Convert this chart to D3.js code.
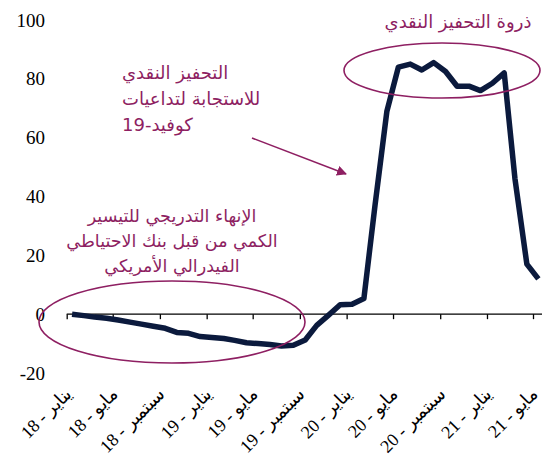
<!DOCTYPE html>
<html>
<head>
<meta charset="utf-8">
<script src="https://cdn.jsdelivr.net/npm/d3@7"></script>
<style>
  body { margin: 0; background: #fff; }
  svg { display: block; }
</style>
</head>
<body>
<svg id="chart" width="542" height="458"></svg>
<script>
// data
const months = [
    '2018-01', '2018-02', '2018-03', '2018-04', '2018-05', '2018-06', '2018-07', '2018-08', '2018-09', '2018-10', '2018-11', '2018-12',
    '2019-01', '2019-02', '2019-03', '2019-04', '2019-05', '2019-06', '2019-07', '2019-08', '2019-09', '2019-10', '2019-11', '2019-12',
    '2020-01', '2020-02', '2020-03', '2020-04', '2020-05', '2020-06', '2020-07', '2020-08', '2020-09', '2020-10', '2020-11', '2020-12',
    '2021-01', '2021-02', '2021-03', '2021-04', '2021-05'
];
const values = [
    0, -0.5, -1, -1.4, -2, -2.7, -3.4, -4.1, -4.8, -6.2, -6.5, -7.6,
    -7.9, -8.3, -8.9, -9.7, -10, -10.3, -10.8, -10.6, -8.8, -3.8, -0.3, 3.2,
    3.4, 5.3, 37, 69, 84, 85, 83, 85.5, 82.5, 77.5, 77.5, 76,
    78.5, 82, 46, 17, 12
];
const tickMonths = ['2018-01', '2018-05', '2018-09', '2019-01', '2019-05', '2019-09', '2020-01', '2020-05', '2020-09', '2021-01', '2021-05'];
const tickLabels = ['يناير - 18', 'مايو - 18', 'سبتمبر - 18', 'يناير - 19', 'مايو - 19', 'سبتمبر - 19', 'يناير - 20', 'مايو - 20', 'سبتمبر - 20', 'يناير - 21', 'مايو - 21'];
const yTicks = [-20, 0, 20, 40, 60, 80, 100];

const noteTop = ['ذروة التحفيز  النقدي'];
const noteCovid = ['التحفيز النقدي', 'للاستجابة لتداعيات', 'كوفيد-19'];
const noteTaper = ['الإنهاء التدريجي  للتيسير', 'الكمي من قبل بنك الاحتياطي', 'الفيدرالي  الأمريكي'];

const
    svg = d3.select('#chart'),
    parse = d3.timeParse('%Y-%m-%d'),
    serif = '"Liberation Serif", "Times New Roman", Times, "DejaVu Serif", serif',
    lineColor = '#0b1a3d',
    noteColor = '#8e1f62';

const x = d3.scaleTime()
    .domain([parse('2018-01-01'), parse('2021-05-01')])
    .range([66.7, 533]);

const y = d3.scaleLinear()
    .domain([-20, 100])
    .range([373, 20]);

const data = months.map((m, i) => ({ date: parse(m + '-15'), value: values[i] }));

// y labels (no axis line)
svg.append('g')
    .selectAll('text')
    .data(yTicks)
    .join('text')
    .attr('x', 45)
    .attr('y', d => y(d))
    .attr('dy', '0.35em')
    .attr('text-anchor', 'end')
    .attr('font-family', serif)
    .attr('font-size', 19)
    .text(d => d);

// x axis at zero
const xAxis = d3.axisBottom(x)
    .tickValues(tickMonths.map(m => parse(m + '-01')))
    .tickSize(5)
    .tickFormat('');

svg.append('g')
    .attr('transform', `translate(0,${y(0)})`)
    .call(xAxis)
    .call(g => g.select('.domain').attr('d', `M66.7,0H542`).attr('stroke', '#000').attr('stroke-width', 1.3))
    .call(g => g.selectAll('.tick line').attr('stroke', '#000').attr('stroke-width', 1.3));

// rotated x labels below the plot
svg.append('g')
    .selectAll('text')
    .data(tickMonths)
    .join('text')
    .attr('transform', d => `translate(${x(parse(d + '-01')) + 6},${395}) rotate(-45)`)
    .attr('text-anchor', 'end')
    .attr('direction', 'ltr')
    .attr('font-family', serif)
    .attr('font-size', 18)
    .text((d, i) => tickLabels[i]);

// line
svg.append('path')
    .datum(data)
    .attr('fill', 'none')
    .attr('stroke', lineColor)
    .attr('stroke-width', 5.5)
    .attr('stroke-linejoin', 'round')
    .attr('d', d3.line().x(d => x(d.date)).y(d => y(d.value)));

// ellipses
svg.append('ellipse')
    .attr('cx', 172).attr('cy', 322).attr('rx', 133).attr('ry', 41)
    .attr('fill', 'none').attr('stroke', noteColor).attr('stroke-width', 1.6);

svg.append('ellipse')
    .attr('cx', 442).attr('cy', 70.5).attr('rx', 98).attr('ry', 27.5)
    .attr('fill', 'none').attr('stroke', noteColor).attr('stroke-width', 1.6);

// arrow
svg.append('defs').append('marker')
    .attr('id', 'arrow')
    .attr('viewBox', '0 0 10 10')
    .attr('refX', 9).attr('refY', 5)
    .attr('markerWidth', 10).attr('markerHeight', 10)
    .attr('markerUnits', 'userSpaceOnUse')
    .attr('orient', 'auto')
    .append('path')
    .attr('d', 'M0,0L10,5L0,10z')
    .attr('fill', noteColor);

svg.append('line')
    .attr('x1', 252).attr('y1', 138)
    .attr('x2', 346).attr('y2', 174)
    .attr('stroke', noteColor).attr('stroke-width', 1.6)
    .attr('marker-end', 'url(#arrow)');

// notes
function note(lines, xPos, y0, step, anchor, size) {
    svg.append('g')
        .selectAll('text')
        .data(lines)
        .join('text')
        .attr('x', xPos)
        .attr('y', (d, i) => y0 + i * step)
        .attr('text-anchor', anchor)
        .attr('direction', 'ltr')
        .attr('fill', noteColor)
        .attr('font-family', '"DejaVu Sans", sans-serif')
        .attr('font-size', size)
        .text(d => d);
}

note(noteTop, 458, 28, 0, 'middle', 18);
note(noteCovid, 122, 79, 26, 'start', 18);
note(noteTaper, 172, 222, 25, 'middle', 17.5);
</script>
</body>
</html>
